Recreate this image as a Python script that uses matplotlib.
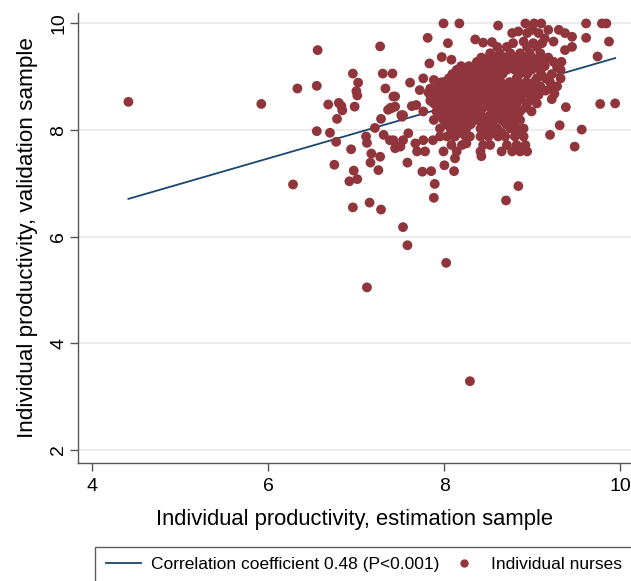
import matplotlib
matplotlib.use("Agg")
from matplotlib import pyplot as plt
from matplotlib.lines import Line2D

plt.rcParams['font.family'] = ['Liberation Sans', 'DejaVu Sans']

# colours (Stata s2color look)
DOT = '#90353B'
LINE = '#1A476F'

# nurses away from the central cluster (estimation, validation)
spread_x = [4.41, 5.92, 6.28, 6.33, 6.56, 6.55, 6.55, 6.70, 6.68, 6.80, 6.83, 6.84, 6.78, 6.77, 6.75,
            6.96, 7.02, 7.00, 7.01, 6.98, 6.94, 6.97, 6.92, 7.01, 6.96, 7.15, 7.28, 7.12, 7.53, 7.58,
            8.02, 8.29, 7.27, 7.30, 7.41, 7.33, 7.44, 7.39, 7.36, 7.28, 7.21, 7.11, 7.12, 7.17, 7.16,
            7.27, 7.25, 7.61, 7.51, 7.58, 7.75, 7.85, 7.89, 7.88, 8.00, 8.11, 8.42, 8.70, 8.84, 9.20,
            9.31, 9.48, 9.56, 9.38, 9.22, 9.77, 9.94, 9.74, 9.87, 9.61, 9.79, 9.84, 9.61, 7.99, 8.17,
            8.61, 7.81, 8.04, 7.83, 8.35, 8.44, 8.54, 8.92, 9.10, 9.02, 7.31, 7.38, 7.46, 7.40]
spread_y = [8.53, 8.49, 6.98, 8.78, 9.50, 8.83, 7.98, 7.95, 8.48, 8.51, 8.45, 8.37, 8.21, 7.78, 7.35,
            9.06, 8.89, 8.73, 8.65, 8.44, 7.64, 7.24, 7.04, 7.08, 6.55, 6.64, 6.51, 5.05, 6.18, 5.84,
            5.51, 3.29, 9.57, 9.06, 9.06, 8.78, 8.63, 8.42, 8.38, 8.21, 8.04, 7.88, 7.76, 7.56, 7.39,
            7.50, 7.25, 8.89, 8.28, 7.39, 7.22, 7.23, 6.99, 6.73, 7.34, 7.23, 7.51, 6.68, 6.95, 7.91,
            8.09, 7.69, 8.01, 8.43, 8.58, 8.49, 8.50, 9.38, 9.66, 10.0, 10.0, 10.0, 9.73, 10.0, 10.0,
            9.96, 9.73, 9.63, 9.25, 9.70, 9.64, 9.65, 10.0, 10.0, 10.0, 7.91, 7.81, 7.69, 8.41]

# nurses around the edge of the cluster
edge_x = [7.97, 8.08, 7.76, 7.88, 7.95, 7.72, 7.84,
          8.77, 8.84, 9.00, 9.07, 9.14, 9.18, 9.30, 9.37, 9.45, 9.37, 9.45, 8.94, 9.24, 9.11,
          9.01, 8.90, 8.78,
          7.42, 7.44, 7.63, 7.68, 7.53, 7.76, 7.59, 7.42, 7.53, 7.44, 7.50, 7.67, 7.76, 7.78,
          7.69, 7.87, 7.95, 7.99, 8.12, 8.25, 8.29, 7.52, 7.82, 7.84,
          8.60, 8.71, 8.94, 9.05, 9.22, 9.25, 9.28]
edge_y = [9.37, 9.32, 8.97, 8.94, 8.89, 8.75, 8.78,
          9.82, 9.85, 9.88, 9.82, 9.72, 9.88, 9.88, 9.82, 9.75, 9.50, 9.56, 9.82, 9.66, 9.63,
          9.63, 9.66, 9.63,
          8.63, 8.44, 8.45, 8.47, 8.28, 8.35, 7.94, 7.81, 7.81, 7.66, 7.69, 7.75, 7.81, 7.60,
          7.60, 7.81, 7.88, 7.60, 7.47, 7.75, 7.88, 8.25, 8.70, 8.55,
          9.56, 9.56, 9.56, 9.56, 8.80, 8.68, 9.18]

# dense central cluster, read row by row (validation value -> estimation values)
cluster_rows = {
    9.44: [8.52, 8.63, 8.75, 8.86, 8.97, 9.09],
    9.36: [8.42, 8.51, 8.60, 8.70, 8.80, 8.89, 8.99, 9.08, 9.18],
    9.28: [8.37, 8.46, 8.56, 8.65, 8.75, 8.84, 8.94, 9.03, 9.13, 9.24, 9.33],
    9.20: [8.19, 8.28, 8.38, 8.47, 8.56, 8.66, 8.75, 8.85, 8.94, 9.04, 9.14],
    9.13: [8.14, 8.24, 8.33, 8.43, 8.52, 8.61, 8.71, 8.80, 8.90, 8.99, 9.09, 9.32],
    9.05: [8.09, 8.19, 8.28, 8.38, 8.47, 8.57, 8.66, 8.85, 8.94, 9.10, 9.22],
    8.97: [8.05, 8.14, 8.24, 8.33, 8.43, 8.52, 8.62, 8.82, 9.05, 9.15, 9.32],
    8.90: [7.98, 8.08, 8.17, 8.27, 8.36, 8.46, 8.55, 8.64, 8.74, 8.84, 8.93, 9.02, 9.20],
    8.82: [7.93, 8.03, 8.12, 8.22, 8.31, 8.41, 8.50, 8.60, 8.69, 8.79, 8.88, 8.97, 9.09, 9.28],
    8.74: [7.88, 7.98, 8.07, 8.17, 8.26, 8.36, 8.45, 8.55, 8.64, 8.74, 8.83, 8.93, 9.02, 9.15],
    8.66: [7.84, 7.93, 8.03, 8.12, 8.22, 8.31, 8.41, 8.50, 8.60, 8.69, 8.79, 8.88, 8.97, 9.07],
    8.58: [7.93, 8.02, 8.12, 8.21, 8.31, 8.40, 8.49, 8.59, 8.68, 8.78, 8.87, 8.99],
    8.50: [7.88, 7.97, 8.07, 8.16, 8.26, 8.35, 8.45, 8.54, 8.63, 8.73, 8.82, 8.94, 9.05],
    8.42: [7.96, 8.05, 8.15, 8.24, 8.34, 8.44, 8.53, 8.62, 8.72, 8.81, 8.92],
    8.35: [7.91, 8.01, 8.10, 8.20, 8.29, 8.39, 8.58, 8.67, 8.77, 8.86, 8.99],
    8.27: [7.94, 8.04, 8.13, 8.23, 8.32, 8.42, 8.51, 8.61, 8.70, 8.80],
    8.19: [7.88, 7.99, 8.08, 8.18, 8.27, 8.37, 8.46, 8.56, 8.65, 8.75, 8.86],
    8.11: [8.02, 8.12, 8.21, 8.30, 8.45, 8.55, 8.70, 8.79],
    8.03: [7.95, 8.07, 8.16, 8.25, 8.41, 8.50, 8.60, 8.75, 8.82, 8.90],
    7.95: [8.08, 8.18, 8.45, 8.55, 8.65, 8.85],
    7.88: [8.03, 8.12, 8.24, 8.41, 8.50, 8.61, 8.69, 8.80, 8.90],
    7.72: [8.08, 8.20, 8.44, 8.52, 8.71, 8.82, 8.92],
    7.60: [8.14, 8.41, 8.65, 8.77, 8.86, 8.94],
}

# fitted line end points (min / max of estimation sample)
fit_x = [4.41, 9.94]
fit_y = [6.71, 9.35]

x_ticks = [4, 6, 8, 10]
y_ticks = [2, 4, 6, 8, 10]

# ---------------------------------------------
est = spread_x + edge_x
val = spread_y + edge_y
for yv, xs in cluster_rows.items():
    est += xs
    val += [yv] * len(xs)

fig = plt.figure(figsize=(6.31, 5.81), dpi=100)
ax = fig.add_axes([0.124, 0.203, 0.876, 0.775])

for yt in y_ticks:
    ax.axhline(yt, color='#ececec', lw=1.5, zorder=0)

ax.plot(fit_x, fit_y, color=LINE, lw=1.3, zorder=2)
ax.scatter(est, val, s=50, color=DOT, edgecolors='none', zorder=3)

ax.set_xlim(3.84, 10.12)
ax.set_ylim(1.755, 10.2)
ax.set_xticks(x_ticks)
ax.set_yticks(y_ticks)
ax.set_yticklabels([str(t) for t in y_ticks], rotation=90, va='center')
ax.tick_params(direction='out', length=6, width=1, color='#555555', labelsize=14)
ax.tick_params(axis='x', pad=5)
ax.tick_params(axis='y', pad=2)

for s in ['top', 'right']:
    ax.spines[s].set_visible(False)
for s in ['left', 'bottom']:
    ax.spines[s].set_color('#555555')
    ax.spines[s].set_linewidth(1)

ax.set_xlabel('Individual productivity, estimation sample', fontsize=15.8, labelpad=10)
ax.set_ylabel('Individual productivity, validation sample', fontsize=16.2, labelpad=9)

handles = [Line2D([0], [0], color=LINE, lw=1.3),
           Line2D([0], [0], marker='o', color='none', markerfacecolor=DOT,
                  markeredgecolor='none', markersize=6)]
labels = ['Correlation coefficient 0.48 (P<0.001)', 'Individual nurses']
leg = fig.legend(handles, labels, loc='lower left', bbox_to_anchor=(0.143, -0.012), ncol=2,
                 fontsize=12.5, frameon=True, fancybox=False, handlelength=2.0,
                 handletextpad=0.6, columnspacing=0.4, borderpad=0.6, borderaxespad=0.3)
leg.get_frame().set_edgecolor('#333333')
leg.get_frame().set_linewidth(1)

fig.savefig('out.png', dpi=100)
